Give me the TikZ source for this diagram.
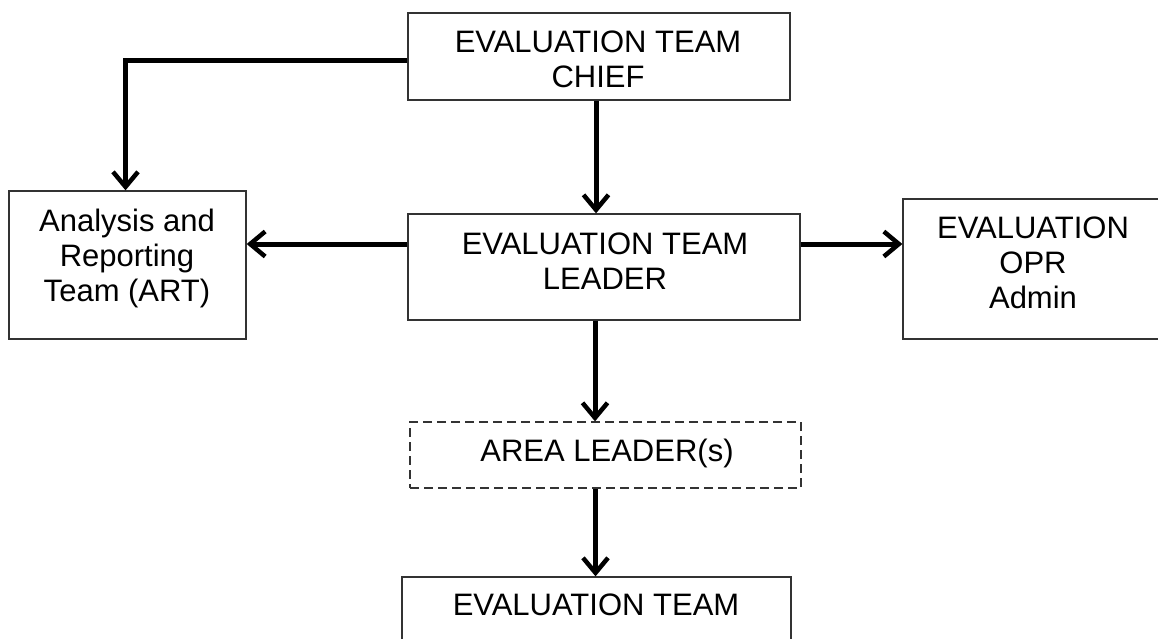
\documentclass[tikz,border=0pt]{standalone}
\usepackage{fontspec}
\setmainfont{Liberation Sans}
\usetikzlibrary{arrows.meta}
\begin{document}
\begin{tikzpicture}[x=1pt,y=-1pt,
  box/.style={draw=black!80,line width=1.3pt,rectangle,inner sep=0pt},
  dbox/.style={box,dashed,dash pattern=on 9pt off 5pt},
  txt/.style={align=center,font=\fontsize{31pt}{35pt}\selectfont,inner sep=0pt},
  arr/.style={line width=5pt,-{Straight Barb[length=15pt,width=25pt,line width=4.5pt]}}]
\useasboundingbox (0,0) rectangle (1158,639);
% boxes
\node[box,minimum width=382pt,minimum height=87pt] (chief) at (599,56.5) {};
\node[box,minimum width=237pt,minimum height=148pt] (art) at (127.5,265) {};
\node[box,minimum width=392pt,minimum height=106pt] (leader) at (604,267) {};
\node[box,minimum width=259pt,minimum height=140pt] (opr) at (1032.5,269) {};
\node[dbox,minimum width=391pt,minimum height=66pt] (area) at (605.5,455) {};
\node[box,minimum width=389pt,minimum height=83pt] (team) at (596.5,618.5) {};
% texts
\node[txt] (chieft) at (598,59) {EVALUATION TEAM\\CHIEF};
\node[txt] (artt) at (127,258) {Analysis and\\Reporting\\Team (ART)};
\node[txt] (leadert) at (605,261.5) {EVALUATION TEAM\\LEADER};
\node[txt] (oprt) at (1033,262.5) {EVALUATION\\OPR\\Admin};
\node[txt] (areat) at (607,453) {AREA LEADER(s)};
\node[txt] (teamt) at (596,605) {EVALUATION TEAM};
% connectors
\draw[arr] ([yshift=-4.5pt]chief.west) -| ([xshift=-2pt]art.north);
\draw[arr] ([xshift=-3pt]chief.south) -- ([xshift=-3pt]chief.south |- leader.north);
\draw[arr] ([yshift=23pt]leader.west) -- ([yshift=23pt]leader.west -| art.east);
\draw[arr] ([yshift=23pt]leader.east) -- ([yshift=23pt]leader.east -| opr.west);
\draw[arr] ([xshift=-9pt]leader.south) -- ([xshift=-9pt]leader.south |- area.north);
\draw[arr] ([xshift=-10pt]area.south) -- ([xshift=-10pt]area.south |- team.north);
\end{tikzpicture}
\end{document}
